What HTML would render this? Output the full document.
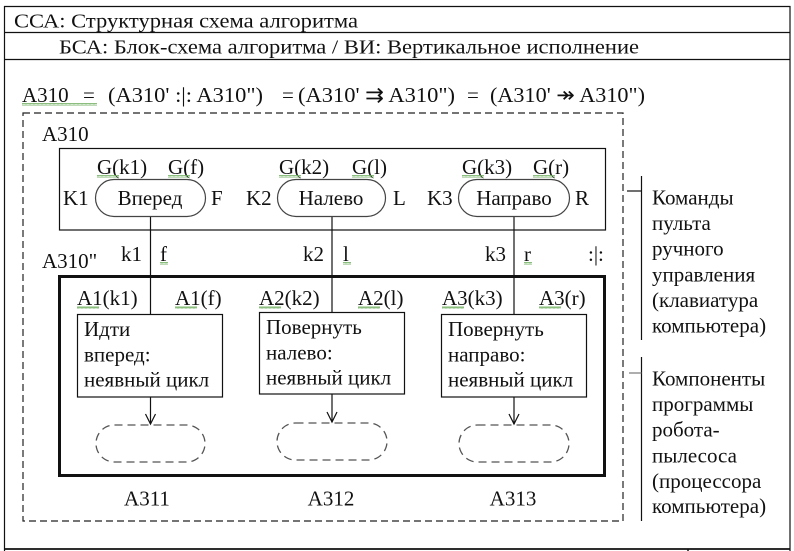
<!DOCTYPE html>
<html>
<head>
<meta charset="utf-8">
<style>
html,body{margin:0;padding:0;background:#fff;}
svg{display:block;}
text{font-family:"Liberation Serif","Noto Serif CJK SC",serif;fill:#111;}
</style>
</head>
<body>
<svg width="794" height="551" viewBox="0 0 794 551" xmlns="http://www.w3.org/2000/svg">
<defs>
<pattern id="wv" width="4" height="3" patternUnits="userSpaceOnUse">
<path d="M0 2.5 L1 0.5 L2 2.5 L3 0.5 L4 2.5" fill="none" stroke="#6fae5f" stroke-width="0.8"/>
</pattern>
</defs>

<!-- outer table frame -->
<g stroke="#111" fill="none">
<line x1="4.5" y1="6" x2="4.5" y2="551" stroke-width="1.2"/>
<line x1="790" y1="6" x2="790" y2="551" stroke-width="1.2"/>
<line x1="4" y1="6.5" x2="790.5" y2="6.5" stroke-width="1.2"/>
<line x1="4" y1="32.5" x2="790.5" y2="32.5" stroke-width="1.2"/>
<line x1="4" y1="59.5" x2="790.5" y2="59.5" stroke-width="1.2"/>
<line x1="4" y1="549" x2="790.5" y2="549" stroke-width="1.8"/>
<line x1="688" y1="549" x2="688" y2="551" stroke-width="1.5"/>
</g>

<text x="14" y="27.5" font-size="20.5" textLength="344" lengthAdjust="spacingAndGlyphs">ССА: Структурная схема алгоритма</text>
<text x="59" y="53.5" font-size="20.5" textLength="580" lengthAdjust="spacingAndGlyphs">БСА: Блок-схема алгоритма / ВИ: Вертикальное исполнение</text>

<!-- formula -->
<g font-size="21">
<text x="22" y="102">A310</text>
<text x="83" y="102">=</text>
<text x="108" y="102" textLength="155" lengthAdjust="spacingAndGlyphs">(A310' :|: A310")</text>
<text x="282" y="102">=</text>
<text x="298" y="102" textLength="157" lengthAdjust="spacingAndGlyphs">(A310' ⇉ A310")</text>
<text x="467" y="102">=</text>
<text x="490" y="102" textLength="155" lengthAdjust="spacingAndGlyphs">(A310' ↠ A310")</text>
</g>
<rect x="22" y="103" width="75" height="3" fill="url(#wv)"/>

<!-- dashed outer box -->
<rect x="23" y="113" width="600" height="408" fill="none" stroke="#222" stroke-width="1.2" stroke-dasharray="7,4"/>
<text x="42" y="141" font-size="21">A310</text>

<!-- A310' box -->
<rect x="59.5" y="148.5" width="546" height="81.5" fill="none" stroke="#111" stroke-width="1.2"/>

<!-- connecting lines -->
<g stroke="#111" stroke-width="1.2">
<line x1="150.5" y1="216" x2="150.5" y2="314"/>
<line x1="332" y1="216" x2="332" y2="312"/>
<line x1="514" y1="216" x2="514" y2="314"/>
</g>

<!-- pills -->
<g fill="#fff" stroke="#444" stroke-width="1.2">
<rect x="95.5" y="179.5" width="110" height="37" rx="18.5" ry="18.5"/>
<rect x="277.5" y="179.5" width="108" height="37" rx="18.5" ry="18.5"/>
<rect x="458.5" y="179.5" width="111" height="37" rx="18.5" ry="18.5"/>
</g>

<g font-size="21">
<text x="150" y="205" text-anchor="middle">Вперед</text>
<text x="331" y="205" text-anchor="middle">Налево</text>
<text x="514" y="205" text-anchor="middle">Направо</text>

<text x="63" y="205">K1</text>
<text x="211" y="205">F</text>
<text x="246" y="205">K2</text>
<text x="393" y="205">L</text>
<text x="427" y="205">K3</text>
<text x="575" y="205">R</text>

<text x="97" y="174">G(k1)</text>
<text x="168" y="174">G(f)</text>
<text x="279" y="174">G(k2)</text>
<text x="352" y="174">G(l)</text>
<text x="462" y="174">G(k3)</text>
<text x="533" y="174">G(r)</text>

<text x="121" y="261">k1</text>
<text x="160" y="261">f</text>
<text x="303" y="261">k2</text>
<text x="343" y="261">l</text>
<text x="485" y="261">k3</text>
<text x="524" y="261">r</text>
<text x="588" y="261">:|:</text>

<text x="42" y="268">A310"</text>

<text x="77" y="305">A1(k1)</text>
<text x="175" y="305">A1(f)</text>
<text x="259" y="305">A2(k2)</text>
<text x="358" y="305">A2(l)</text>
<text x="442" y="305">A3(k3)</text>
<text x="539" y="305">A3(r)</text>
</g>

<!-- wavy spellcheck underlines -->
<g fill="url(#wv)">
<rect x="97" y="175" width="22" height="3"/>
<rect x="168" y="175" width="22" height="3"/>
<rect x="279" y="175" width="22" height="3"/>
<rect x="352" y="175" width="22" height="3"/>
<rect x="462" y="175" width="22" height="3"/>
<rect x="533" y="175" width="22" height="3"/>
<rect x="160" y="262" width="8" height="3"/>
<rect x="343" y="262" width="8" height="3"/>
<rect x="524" y="262" width="8" height="3"/>
<rect x="77" y="306" width="22" height="3"/>
<rect x="175" y="306" width="22" height="3"/>
<rect x="259" y="306" width="22" height="3"/>
<rect x="358" y="306" width="22" height="3"/>
<rect x="442" y="306" width="22" height="3"/>
<rect x="539" y="306" width="22" height="3"/>
</g>

<!-- A310'' thick box -->
<rect x="59.5" y="276.5" width="545" height="199" fill="none" stroke="#111" stroke-width="3"/>

<!-- process boxes -->
<g fill="#fff" stroke="#111" stroke-width="1.2">
<rect x="77.5" y="314.5" width="145" height="82.5"/>
<rect x="259.5" y="312.5" width="145" height="81.5"/>
<rect x="441.5" y="314.5" width="145" height="82.5"/>
</g>
<g font-size="21">
<text x="84" y="336">Идти</text>
<text x="84" y="361.5">вперед:</text>
<text x="84" y="386.5">неявный цикл</text>
<text x="266" y="334">Повернуть</text>
<text x="266" y="359.5">налево:</text>
<text x="266" y="384.5">неявный цикл</text>
<text x="448" y="336">Повернуть</text>
<text x="448" y="361.5">направо:</text>
<text x="448" y="386.5">неявный цикл</text>
</g>

<!-- arrows -->
<g stroke="#111" stroke-width="1.2" fill="none">
<line x1="150.5" y1="397" x2="150.5" y2="424"/>
<polyline points="145.5,414 150.5,424 155.5,414"/>
<line x1="332" y1="394" x2="332" y2="422"/>
<polyline points="327,412 332,422 337,412"/>
<line x1="514" y1="397" x2="514" y2="424"/>
<polyline points="509,414 514,424 519,414"/>
</g>

<!-- dashed pills -->
<g fill="none" stroke="#555" stroke-width="1.3" stroke-dasharray="8,5">
<rect x="96" y="425" width="109" height="37" rx="18.5" ry="18.5"/>
<rect x="277" y="423" width="110" height="37" rx="18.5" ry="18.5"/>
<rect x="459" y="425" width="110" height="37" rx="18.5" ry="18.5"/>
</g>

<g font-size="21">
<text x="147" y="505.5" text-anchor="middle">A311</text>
<text x="331" y="505.5" text-anchor="middle">A312</text>
<text x="513" y="505.5" text-anchor="middle">A313</text>
</g>

<!-- right brackets -->
<g stroke="#111" stroke-width="1.2">
<line x1="641.5" y1="176" x2="641.5" y2="340"/>
<line x1="627" y1="191" x2="641.5" y2="191"/>
<line x1="641.5" y1="357" x2="641.5" y2="521"/>
<line x1="629" y1="373" x2="641.5" y2="373" stroke="#777"/>
</g>

<g font-size="21">
<text x="652" y="204.3">Команды</text>
<text x="652" y="230">пульта</text>
<text x="652" y="255.7">ручного</text>
<text x="652" y="281.4">управления</text>
<text x="652" y="307">(клавиатура</text>
<text x="652" y="332.5">компьютера)</text>

<text x="652" y="385.3">Компоненты</text>
<text x="652" y="411">программы</text>
<text x="652" y="436.7">робота-</text>
<text x="652" y="462.4">пылесоса</text>
<text x="652" y="488">(процессора</text>
<text x="652" y="513">компьютера)</text>
</g>
</svg>
</body>
</html>
